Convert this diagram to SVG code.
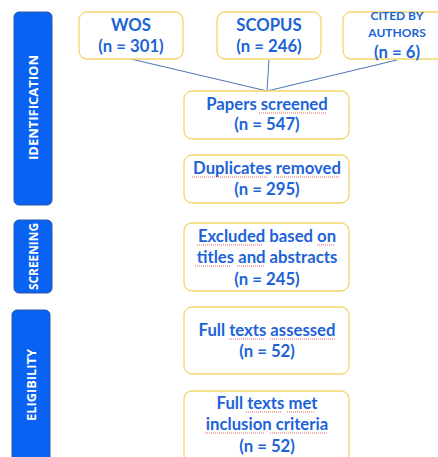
<svg xmlns="http://www.w3.org/2000/svg" width="438" height="457" viewBox="0 0 438 457">
<style>
.box{fill:#fff;stroke:#f2d66e;stroke-width:1.3}
.bar{fill:#0a62f2;stroke:#2a56a8;stroke-width:1}
.t{font-family:Lato,"Open Sans",sans-serif;font-weight:bold;fill:#1d63d8;text-anchor:middle;font-size:16.7px}
.s{font-size:12px}
.v{font-family:"Open Sans",Lato,sans-serif;font-weight:bold;fill:#fff;text-anchor:middle;font-size:13px}
.c{stroke:#4f74b6;stroke-width:1;fill:none}
.sq{stroke:#e04040;stroke-width:0.8;fill:none;stroke-dasharray:1 1}
</style>
<rect width="438" height="457" fill="#fff"/>
<g id="bar-identification"><rect class="bar" x="14" y="12" width="38" height="193" rx="5"/><text class="v" transform="translate(38,107.5) rotate(-90)" textLength="105" lengthAdjust="spacingAndGlyphs">IDENTIFICATION</text></g>
<g id="bar-screening"><rect class="bar" x="14" y="220" width="38" height="73" rx="5"/><text class="v" transform="translate(38,256.5) rotate(-90)" textLength="67" lengthAdjust="spacingAndGlyphs">SCREENING</text></g>
<g id="bar-eligibility"><rect class="bar" x="12" y="310" width="38" height="155" rx="5"/><text class="v" transform="translate(36,385) rotate(-90)" textLength="72" lengthAdjust="spacingAndGlyphs">ELIGIBILITY</text></g>
<g id="connectors">
<line class="c" x1="131" y1="59" x2="267" y2="91"/>
<line class="c" x1="269" y1="59" x2="267" y2="91"/>
<line class="c" x1="397" y1="60" x2="267" y2="91"/>
</g>
<g id="wos"><rect class="box" x="79" y="12" width="104" height="47" rx="8"/><text class="t" x="131" y="31">WOS</text><text class="t" x="131" y="52">(n = 301)</text></g>
<g id="scopus"><rect class="box" x="217" y="12" width="104" height="47" rx="8"/><text class="t" x="269" y="31">SCOPUS</text><text class="t" x="269" y="52">(n = 246)</text></g>
<g id="cited"><rect class="box" x="343" y="12" width="110" height="47" rx="8"/><text class="t s" x="397" y="20">CITED BY</text><text class="t s" x="397" y="37">AUTHORS</text><text class="t" x="397" y="58">(n = 6)</text></g>
<g id="papers"><rect class="box" x="184" y="91" width="165" height="48" rx="8"/><text class="t" x="267" y="110">Papers screened</text><text class="t" x="267" y="130">(n = 547)</text><path class="sq" d="M259 113 H326"/></g>
<g id="duplicates"><rect class="box" x="184" y="155" width="165" height="48" rx="8"/><text class="t" x="267" y="174">Duplicates removed</text><text class="t" x="267" y="195">(n = 295)</text><path class="sq" d="M192 177 H268 M274 177 H340"/></g>
<g id="excluded"><rect class="box" x="184" y="223" width="165" height="68" rx="8"/><text class="t" x="267" y="242">Excluded based on</text><text class="t" x="267" y="263">titles and abstracts</text><text class="t" x="267" y="285">(n = 245)</text><path class="sq" d="M197 245 H263 M317 245 H334 M195 266 H231 M237 266 H265"/></g>
<g id="assessed"><rect class="box" x="184" y="307" width="165" height="67" rx="8"/><text class="t" x="267" y="336">Full texts assessed</text><text class="t" x="267" y="357">(n = 52)</text><path class="sq" d="M229 339 H265 M270 339 H336"/></g>
<g id="met"><rect class="box" x="184" y="391" width="165" height="72" rx="8"/><text class="t" x="267" y="409">Full texts met</text><text class="t" x="267" y="430">inclusion criteria</text><text class="t" x="267" y="452">(n = 52)</text><path class="sq" d="M246 412 H282 M287 412 H315 M205 433 H264 M270 433 H328"/></g>
</svg>
